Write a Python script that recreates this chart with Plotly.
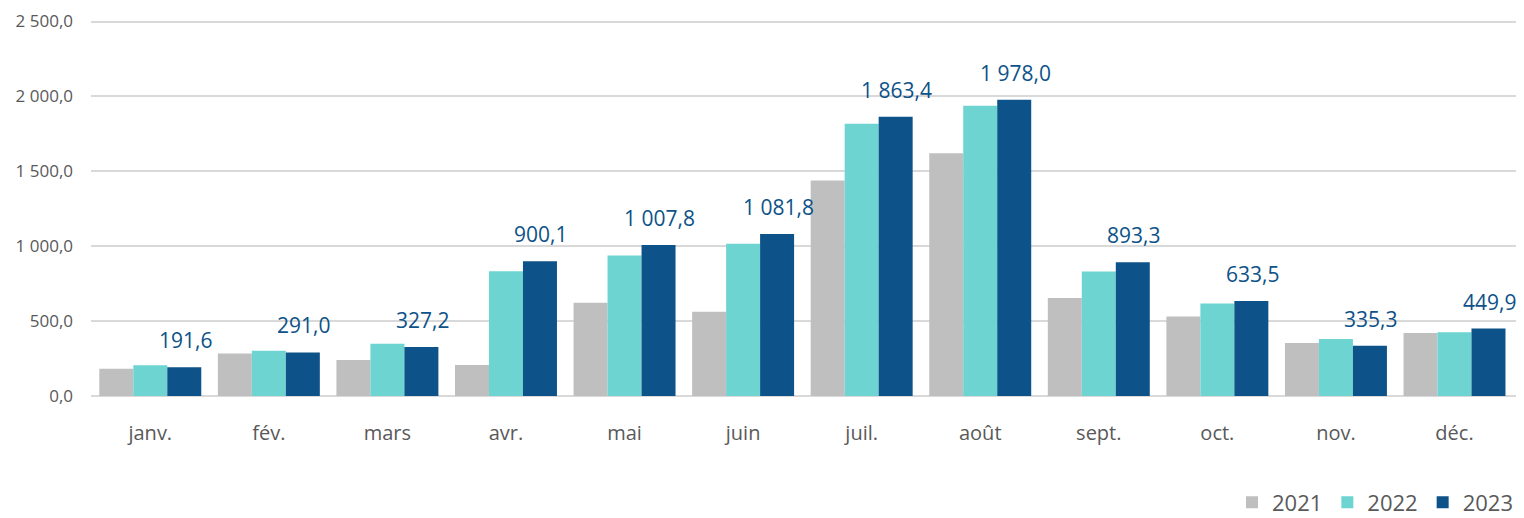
import plotly.graph_objects as go

# monthly values per year
mois = ['janv.', 'fév.', 'mars', 'avr.', 'mai', 'juin', 'juil.', 'août', 'sept.', 'oct.', 'nov.', 'déc.']
v2021 = [182, 284, 240, 207, 623, 563, 1438, 1620, 655, 531, 353, 420]
v2022 = [205, 302, 349, 833, 938, 1016, 1818, 1938, 831, 617, 380, 425]
v2023 = [191.6, 291.0, 327.2, 900.1, 1007.8, 1081.8, 1863.4, 1978.0, 893.3, 633.5, 335.3, 449.9]

y_ticks = [0, 500, 1000, 1500, 2000, 2500]


def fr(v):
    # french number format: space as thousands sep, comma as decimal
    return f'{v:,.1f}'.replace(',', ' ').replace('.', ',')


fig = go.Figure()
fig.add_trace(go.Bar(x=mois, y=v2021, name='2021', marker=dict(color='#BFBFBF', line=dict(width=0))))
fig.add_trace(go.Bar(x=mois, y=v2022, name='2022', marker=dict(color='#6DD4D2', line=dict(width=0))))
fig.add_trace(go.Bar(x=mois, y=v2023, name='2023', marker=dict(color='#0D5288', line=dict(width=0))))

# value labels above the 2023 bars (third bar of each group)
for m, v in zip(mois, v2023):
    fig.add_annotation(x=m, y=v, text=fr(v), showarrow=False, xshift=35, yshift=11,
                       yanchor='bottom', font=dict(size=21, color='#0D5288', family='Open Sans'))

# page body adds an 8px margin, so the figure is a bit smaller than the window
fig.update_layout(
    width=1516, height=510,
    margin=dict(l=83, r=6, t=12, b=122, autoexpand=False),
    paper_bgcolor='white', plot_bgcolor='white',
    barmode='group', bargap=0.14, bargroupgap=0,
    font=dict(family='Open Sans', color='#595959'),
    legend=dict(orientation='h', x=1.0, xanchor='right', y=-0.283, yanchor='middle',
                font=dict(size=22, color='#595959'), itemwidth=30, traceorder='normal'),
)
fig.update_xaxes(showgrid=False, showline=False, ticks='', tickfont=dict(size=20, color='#595959'),
                 ticklabelstandoff=23)
fig.update_yaxes(range=[0, 2510], tickvals=y_ticks, ticktext=[fr(v) for v in y_ticks],
                 showgrid=True, gridcolor='#D9D9D9', gridwidth=1.5, zeroline=True,
                 zerolinecolor='#D9D9D9', zerolinewidth=1.5, showline=False,
                 tickfont=dict(size=17, color='#595959'), ticklabelstandoff=17)

fig.write_html('out.html')
